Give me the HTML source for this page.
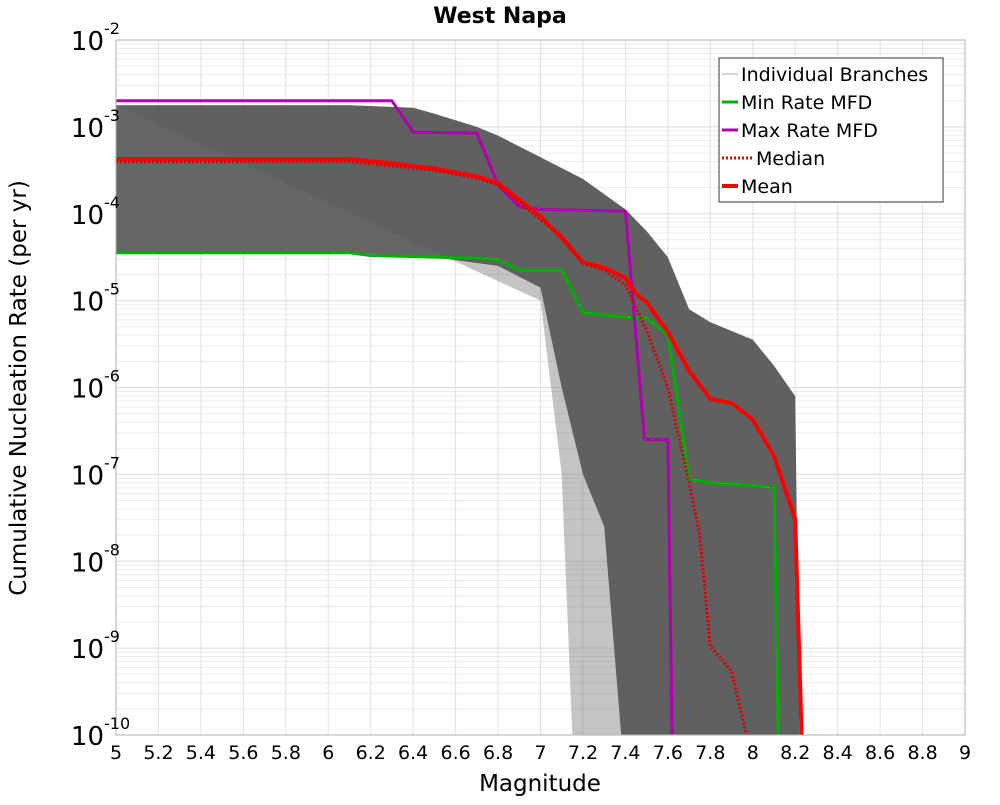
<!DOCTYPE html>
<html><head><meta charset="utf-8"><style>
body{margin:0;background:#fff;font-family:"Liberation Sans","DejaVu Sans",sans-serif}
svg text{font-family:"DejaVu Sans","Liberation Sans",sans-serif}
</style></head><body>
<svg id="c" width="1000" height="800" xmlns="http://www.w3.org/2000/svg"></svg>
<script>
// ---- data ----
const xTicks=[5,5.2,5.4,5.6,5.8,6,6.2,6.4,6.6,6.8,7,7.2,7.4,7.6,7.8,8,8.2,8.4,8.6,8.8,9];
const yDecades=[-2,-3,-4,-5,-6,-7,-8,-9,-10];
const maxM=[5,6.3,6.4,6.7,6.8,6.9,7.0,7.4,7.49,7.6,7.62];
const maxV=[-2.70,-2.70,-3.06,-3.07,-3.67,-3.92,-3.95,-3.97,-6.6,-6.6,-10];
const minM=[5,6.1,6.2,6.7,6.8,6.9,7.1,7.2,7.4,7.5,7.6,7.7,7.8,7.9,8.1,8.12];
const minV=[-4.45,-4.45,-4.48,-4.51,-4.53,-4.65,-4.65,-5.14,-5.19,-5.2,-5.4,-7.05,-7.1,-7.11,-7.15,-10];
const meanM=[5,6.1,6.3,6.5,6.7,6.8,6.9,7.0,7.1,7.2,7.3,7.4,7.45,7.5,7.6,7.7,7.8,7.9,8.0,8.1,8.2,8.23];
const meanV=[-3.37,-3.37,-3.42,-3.48,-3.57,-3.65,-3.84,-4.03,-4.28,-4.56,-4.62,-4.74,-4.92,-5.02,-5.36,-5.81,-6.13,-6.18,-6.37,-6.79,-7.52,-10];
const medM=[5,6.1,6.3,6.5,6.7,6.8,6.9,7.0,7.1,7.2,7.3,7.4,7.5,7.6,7.7,7.75,7.8,7.9,7.97];
const medV=[-3.40,-3.40,-3.45,-3.50,-3.59,-3.67,-3.87,-4.07,-4.25,-4.57,-4.65,-4.82,-5.34,-6.0,-7.1,-7.7,-8.98,-9.26,-10];
const bandM=[5,6.1,6.4,6.5,6.7,6.8,7.0,7.2,7.4,7.5,7.6,7.7,7.8,7.9,8.0,8.1,8.2,8.22];
const bandHi=[-2.75,-2.75,-2.78,-2.85,-3.0,-3.1,-3.35,-3.6,-3.95,-4.2,-4.5,-5.1,-5.25,-5.35,-5.45,-5.75,-6.1,-10];
const darkLoM=[5,6.1,6.5,6.8,7.0,7.1,7.2,7.3,7.38];
const darkLoV=[-4.45,-4.45,-4.5,-4.6,-4.85,-6.0,-7.0,-7.6,-10];
const lightLoM=[7.0,7.1,7.15];
const lightLoV=[-5.0,-7.0,-10];
// ---- scales ----
const X0=116,X1=965,Y0=40,Y1=735;
const sx=m=>X0+(m-5)/4*(X1-X0);
const sy=v=>Y0+(-2-v)/8*(Y1-Y0);
const svg=document.getElementById('c');
const NS='http://www.w3.org/2000/svg';
function add(tag,attrs,parent){const e=document.createElementNS(NS,tag);for(const k in attrs)e.setAttribute(k,attrs[k]);(parent||svg).appendChild(e);return e;}
function pts(M,V){return M.map((m,i)=>sx(m).toFixed(1)+','+sy(V[i]).toFixed(1)).join(' ');}
// grid
const grid=add('g',{});


for(let d=-10;d<-2;d++){for(let k=2;k<10;k++){const y=sy(d+Math.log10(k));add('line',{x1:X0,x2:X1,y1:y,y2:y,stroke:'#ececec','stroke-width':1},grid);}}
yDecades.forEach(d=>{const y=sy(d);add('line',{x1:X0,x2:X1,y1:y,y2:y,stroke:'#dcdcdc','stroke-width':1},grid);});
xTicks.forEach(m=>{const x=sx(m);add('line',{x1:x,x2:x,y1:Y0,y2:Y1,stroke:'#e2e2e2','stroke-width':1},grid);});
// clip
const defs=add('defs',{});const cp=add('clipPath',{id:'pc'},defs);add('rect',{x:X0,y:Y0,width:X1-X0,height:Y1-Y0},cp);
const plot=add('g',{'clip-path':'url(#pc)'});


// branches
const bl=add('polygon',{points:pts(bandM,bandHi)+' '+sx(8.22)+','+(Y1+5)+' '+sx(7.0)+','+(Y1+5)+' '+pts(lightLoM,lightLoV).split(' ').reverse().join(' '),fill:'#555',opacity:0.35},plot);


const bd=add('polygon',{points:pts(bandM,bandHi)+' '+sx(8.22)+','+(Y1+5)+' '+pts(darkLoM,darkLoV).split(' ').reverse().join(' '),fill:'#555',opacity:0.9},plot);


function line(M,V,col,w,name,dash){const e=add('polyline',{points:pts(M,V),fill:'none',stroke:col,'stroke-width':w,'stroke-linejoin':'round'},plot);if(dash)e.setAttribute('stroke-dasharray',dash);}
line(minM,minV,'#00b000',3,'min-rate-mfd');
line(maxM,maxV,'#b000b0',3,'max-rate-mfd');
line(meanM,meanV,'#ff0000',4,'mean-line');
line(medM,medV,'#e00000',3,'median-line','2,2');
// frame
const fr=add('rect',{x:X0,y:Y0,width:X1-X0,height:Y1-Y0,fill:'none',stroke:'#b0b0b0','stroke-width':1});


// x ticks
xTicks.forEach(m=>{const t=add('text',{x:sx(m),y:759,'font-size':19,'text-anchor':'middle',fill:'#000'});t.textContent=String(m);});
// y ticks
yDecades.forEach(d=>{const t=add('text',{x:104,y:sy(d)+10,'font-size':26,'text-anchor':'end',fill:'#000'});t.textContent='10';
const s=add('text',{x:104,y:sy(d)-6,'font-size':16,'text-anchor':'start',fill:'#000'});s.textContent=String(d);});
</script>
<svg style="position:absolute;left:0;top:0" width="1000" height="800">
<text x="500" y="23" font-size="22" font-weight="bold" text-anchor="middle">West Napa</text>
<text x="540" y="791" font-size="23" text-anchor="middle">Magnitude</text>
<text transform="translate(26,388) rotate(-90)" font-size="23" text-anchor="middle">Cumulative Nucleation Rate (per yr)</text>
<g>
<rect x="719" y="58" width="224" height="144" fill="#fff" stroke="#333" stroke-width="1"/>
<line x1="722" y1="74" x2="738" y2="74" stroke="#aaa" stroke-width="1"/>
<text x="741" y="81" font-size="19">Individual Branches</text>
<line x1="722" y1="102" x2="738" y2="102" stroke="#00b000" stroke-width="3"/>
<text x="741" y="109" font-size="19">Min Rate MFD</text>
<line x1="722" y1="130" x2="738" y2="130" stroke="#b000b0" stroke-width="3"/>
<text x="741" y="137" font-size="19">Max Rate MFD</text>
<line x1="722" y1="158" x2="752" y2="158" stroke="#e00000" stroke-width="3" stroke-dasharray="2,2"/>
<text x="756" y="165" font-size="19">Median</text>
<line x1="722" y1="186" x2="738" y2="186" stroke="#ff0000" stroke-width="4"/>
<text x="741" y="193" font-size="19">Mean</text>
</g>
</svg>
</body></html>
